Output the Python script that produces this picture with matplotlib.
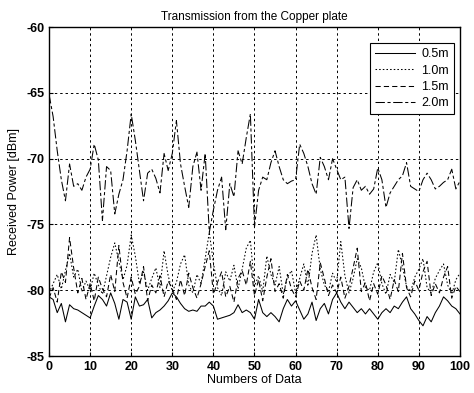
import numpy as np
import matplotlib
matplotlib.use('Agg')
import matplotlib.pyplot as plt

plt.rcParams['font.family'] = ['Liberation Sans', 'DejaVu Sans']
plt.rcParams['axes.unicode_minus'] = False
text_size = 9

n = np.arange(0, 101)

p05 = [-80.5, -80.7, -81.7, -81.0, -82.4, -81.1, -81.4, -81.5, -81.7, -81.9,
       -82.1, -81.2, -80.4, -80.7, -81.2, -80.2, -81.0, -82.2, -80.7, -80.9,
       -82.2, -80.5, -81.2, -81.1, -80.7, -82.1, -81.7, -81.5, -81.2, -80.8,
       -80.2, -80.5, -81.0, -81.4, -81.6, -81.5, -81.6, -81.2, -81.2, -80.9,
       -81.2, -82.2, -82.1, -82.0, -81.9, -81.7, -81.1, -81.7, -81.5, -81.7,
       -82.2, -80.7, -81.7, -82.0, -81.7, -82.0, -82.4, -81.4, -80.7, -81.2,
       -80.8, -81.5, -82.2, -81.8, -80.9, -82.3, -81.4, -81.0, -81.8, -80.7,
       -80.2, -80.9, -81.4, -80.9, -81.3, -81.7, -81.4, -81.8, -81.4, -81.8,
       -82.2, -81.7, -81.4, -81.7, -81.2, -81.4, -80.9, -80.5, -81.4, -81.8,
       -82.3, -82.7, -82.0, -82.4, -81.7, -81.2, -80.5, -80.8, -81.2, -81.4,
       -81.8]

p10 = [-80.2, -79.5, -78.8, -79.9, -78.5, -77.2, -79.0, -78.4, -80.1, -79.3,
       -80.0, -78.7, -79.6, -80.3, -78.9, -77.5, -76.4, -77.8, -79.2, -78.1,
       -75.8, -77.4, -79.5, -78.6, -80.0, -79.1, -78.3, -79.8, -77.0, -78.9,
       -80.1, -79.4, -78.0, -77.3, -79.6, -80.2, -78.8, -79.5, -77.6, -75.6,
       -77.9, -79.8, -80.4, -78.6, -79.3, -78.1, -79.9, -78.4, -76.8, -76.2,
       -79.7, -78.9, -80.1, -77.4, -78.8, -79.6, -78.2, -80.3, -79.0, -78.5,
       -80.2, -79.1, -78.0, -79.7, -77.2, -75.8, -78.4, -79.6, -80.1, -78.7,
       -79.4, -76.3, -78.9, -80.2, -79.1, -77.6, -78.3, -79.8, -80.0, -78.6,
       -77.9, -79.5, -80.3, -78.8, -79.4, -76.9, -78.2, -79.7, -80.1, -79.0,
       -78.4, -77.6, -79.8, -80.2, -79.1, -78.5, -78.0, -79.6, -80.3, -79.2,
       -78.7]

p15 = [-80.6, -79.8, -80.9, -78.6, -79.4, -76.0, -78.3, -80.2, -79.1, -80.7,
       -79.5, -80.8, -79.0, -79.9, -80.5, -78.8, -80.1, -76.6, -79.4, -80.6,
       -79.0, -80.3, -79.7, -78.2, -80.8, -79.6, -80.2, -78.9, -80.5, -79.3,
       -79.9, -80.7, -79.2, -80.4, -78.7, -79.8, -80.6, -79.5, -78.2, -77.0,
       -80.3, -79.4, -78.6, -80.5, -79.7, -80.9, -79.1, -78.5, -79.6, -77.8,
       -80.4, -79.2, -80.8, -79.0, -77.6, -80.1, -79.5, -80.6, -78.8, -79.9,
       -80.5, -79.3, -80.0, -78.4, -79.8, -80.7, -77.9, -79.1, -80.4, -79.6,
       -80.2, -79.0, -80.6, -79.7, -78.3, -76.8, -80.1, -79.4, -80.8, -79.5,
       -80.3, -78.9, -79.6, -80.7, -79.2, -80.1, -77.2, -79.8, -80.5, -79.3,
       -80.0, -78.6, -77.8, -80.4, -79.5, -80.2, -79.0, -78.2, -80.6, -79.7,
       -80.1]

p20 = [-65.1, -66.8, -69.4, -71.6, -73.2, -70.4, -72.1, -71.9, -72.4, -71.4,
       -70.8, -68.9, -70.1, -74.7, -70.6, -70.9, -74.2, -72.7, -71.6, -69.4,
       -66.6, -68.6, -70.9, -73.2, -71.1, -70.8, -71.5, -72.6, -69.6, -70.9,
       -69.6, -67.1, -70.4, -72.1, -73.7, -70.6, -69.5, -72.4, -69.6, -75.6,
       -73.9, -72.4, -71.4, -75.4, -71.9, -72.9, -69.4, -70.4, -68.4, -66.6,
       -75.2, -72.4, -71.4, -71.6, -70.3, -69.4, -70.6, -71.6, -71.9, -71.7,
       -71.6, -68.9, -69.6, -70.6, -71.9, -72.7, -69.9, -70.6, -71.6, -70.0,
       -70.8, -71.6, -71.4, -75.3, -72.2, -71.6, -72.4, -72.1, -72.7, -72.3,
       -70.7, -71.6, -73.7, -72.6, -72.1, -71.6, -71.3, -70.3, -72.1, -72.3,
       -72.5, -71.6, -71.1, -71.6, -72.3, -72.1, -71.8, -71.6, -70.8, -72.3,
       -71.7]

labels = ['0.5m', '1.0m', '1.5m', '2.0m']

fig = plt.figure(figsize=(4.74, 3.93), dpi=100)
ax = fig.add_axes([0.1034, 0.094, 0.867, 0.837])

ax.plot(n, p05, color='black', linewidth=0.75, linestyle='-')
ax.plot(n, p10, color='black', linewidth=0.75, linestyle=(0, (1.5, 2)))
ax.plot(n, p15, color='black', linewidth=0.75, linestyle=(0, (5, 3)))
ax.plot(n, p20, color='black', linewidth=0.75, linestyle=(0, (9, 2.5, 3, 2.5)))

ax.set_xlim(0, 100)
ax.set_ylim(-85, -60)
ax.set_xticks(np.arange(0, 101, 10))
ax.set_yticks(np.arange(-85, -59, 5))
ax.grid(color='black', linestyle=(0, (2.5, 3)), linewidth=0.7)
ax.tick_params(direction='in', length=3, labelsize=text_size)
for lab in ax.get_xticklabels() + ax.get_yticklabels():
    lab.set_fontweight('bold')
for s in ax.spines.values():
    s.set_linewidth(1.0)

ax.set_title('Transmission from the Copper plate', fontsize=8.5, pad=5)
ax.set_xlabel('Numbers of Data', fontsize=text_size, labelpad=1)
ax.set_ylabel('Received Power [dBm]', fontsize=text_size, labelpad=4)

leg = ax.legend(labels, loc='upper right', bbox_to_anchor=(1.0, 0.97),
                fontsize=text_size, fancybox=False, framealpha=1,
                edgecolor='black', handlelength=3.2, borderpad=0.4,
                labelspacing=0.35, handletextpad=0.5)
leg.get_frame().set_linewidth(0.8)

plt.savefig('out.png', dpi=100)
